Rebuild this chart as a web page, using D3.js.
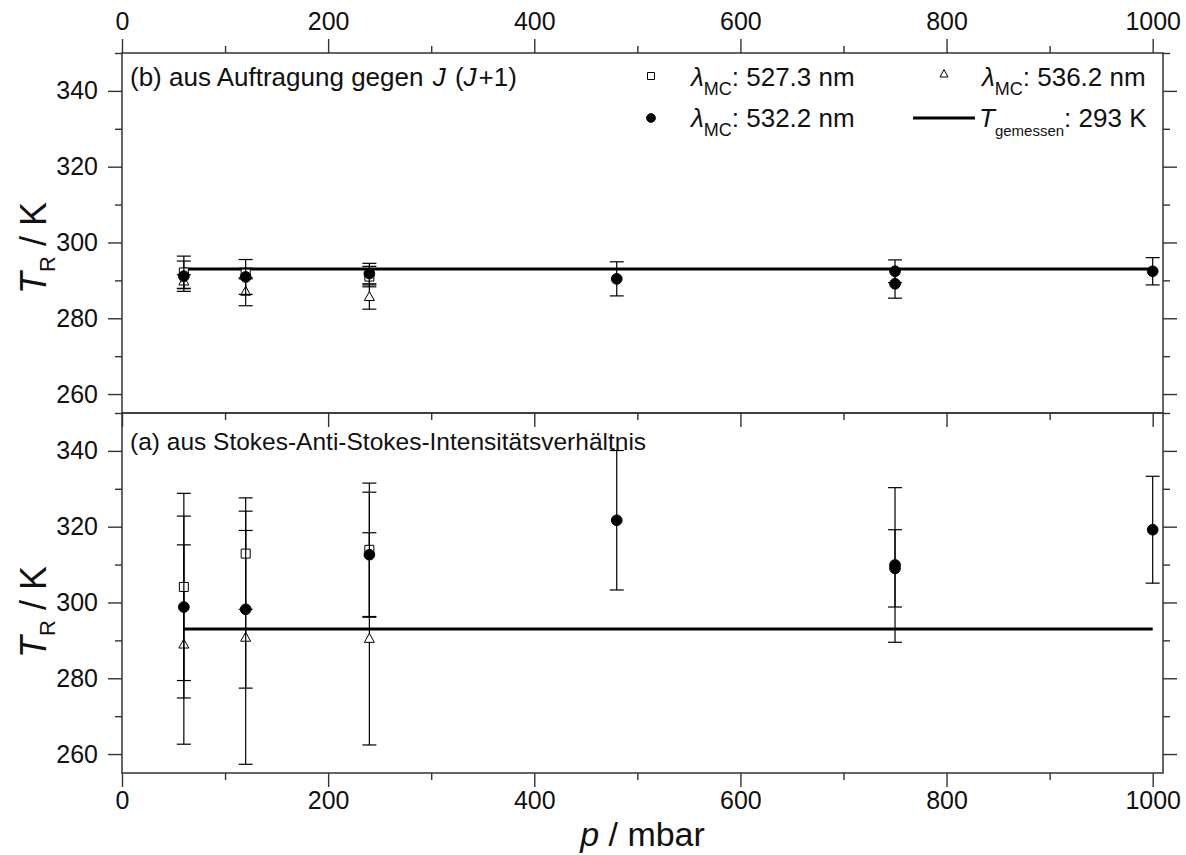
<!DOCTYPE html>
<html>
<head>
<meta charset="utf-8">
<script src="https://cdn.jsdelivr.net/npm/d3@7"></script>
<style>
  body { margin: 0; background: #fff; }
  svg text { font-family: "Liberation Sans", Arial, sans-serif; fill: #111; }
</style>
</head>
<body>
<div id="chart"></div>
<script>
// Daten: Druck in mbar, Rotationstemperatur in K, Fehler in K
const pShort = [60, 120, 240];
const pCircle = [60, 120, 240, 480, 750, 750, 1000];

// (b) aus Auftragung gegen J(J+1)
const tB527 = [292.1, 291.8, 291.0];
const eB527 = [4.3, 1.4, 2.7];
const tB532 = [291.1, 290.9, 291.8, 290.4, 292.4, 289.1, 292.4];
const eB532 = [4.0, 4.6, 2.7, 4.5, 3.0, 3.8, 3.6];
const tB536 = [289.7, 287.0, 285.6];
const eB536 = [1.8, 3.7, 3.2];

// (a) aus Stokes-Anti-Stokes-Intensitaetsverhaeltnis
const tA527 = [304.1, 312.9, 313.9];
const eA527 = [24.7, 14.7, 17.6];
const tA532 = [298.8, 298.2, 312.6, 321.7, 309.9, 309.0, 319.2];
const eA532 = [24.0, 20.8, 16.5, 18.4, 20.4, 10.2, 14.1];
const tA536 = [288.9, 290.7, 290.4];
const eA536 = [26.3, 33.4, 28.0];

const tMeasured = 293;
const pRange = [60, 1000];

const xTicks = [0, 200, 400, 600, 800, 1000];
const xMinor = [100, 300, 500, 700, 900];
const yTicks = [260, 280, 300, 320, 340];
const yMinor = [270, 290, 310, 330, 350];

// Layout
const marginLeft = 122, marginTop = 53;
const pw = 1041, ph = 360;

const svg = d3.select('#chart').append('svg')
    .attr('width', 1186)
    .attr('height', 855);

const x = d3.scaleLinear().domain([0, 1010]).range([0, pw]);
const y = d3.scaleLinear().domain([255, 350]).range([ph, 0]);

function styleAxis(g) {
    g.select('.domain').remove();
    g.selectAll('.tick line').attr('stroke', '#333').attr('stroke-width', 1.4);
    g.selectAll('.tick text').style('font-size', '25px').attr('fill', '#111');
}

function drawPanel(offY, label, series, showTop, showBottom) {
    const g = svg.append('g').attr('transform', `translate(${marginLeft},${offY})`);

    // linke Achse
    g.append('g').call(d3.axisLeft(y).tickValues(yTicks).tickSize(14).tickPadding(10).tickSizeOuter(0)).call(styleAxis);
    g.append('g').call(d3.axisLeft(y).tickValues(yMinor).tickSize(7).tickFormat('').tickSizeOuter(0)).call(styleAxis);
    // rechte Achse
    g.append('g').attr('transform', `translate(${pw},0)`)
        .call(d3.axisRight(y).tickValues(yTicks).tickSize(14).tickFormat('').tickSizeOuter(0)).call(styleAxis);
    g.append('g').attr('transform', `translate(${pw},0)`)
        .call(d3.axisRight(y).tickValues(yMinor).tickSize(7).tickFormat('').tickSizeOuter(0)).call(styleAxis);
    // untere Achse
    g.append('g').attr('transform', `translate(0,${ph})`)
        .call(d3.axisBottom(x).tickValues(xTicks).tickSize(14).tickPadding(4)
            .tickFormat(showBottom ? d3.format('d') : '').tickSizeOuter(0)).call(styleAxis);
    g.append('g').attr('transform', `translate(0,${ph})`)
        .call(d3.axisBottom(x).tickValues(xMinor).tickSize(7).tickFormat('').tickSizeOuter(0)).call(styleAxis);
    if (showTop) {
        g.append('g').call(d3.axisTop(x).tickValues(xTicks).tickSize(14).tickPadding(9)
            .tickFormat(d3.format('d')).tickSizeOuter(0)).call(styleAxis);
        g.append('g').call(d3.axisTop(x).tickValues(xMinor).tickSize(7).tickFormat('').tickSizeOuter(0)).call(styleAxis);
    }

    // Rahmen
    g.append('rect')
        .attr('width', pw).attr('height', ph)
        .attr('fill', 'none').attr('stroke', '#333').attr('stroke-width', 1.5);

    // gemessene Temperatur
    g.append('line')
        .attr('x1', x(pRange[0])).attr('x2', x(pRange[1]))
        .attr('y1', y(tMeasured)).attr('y2', y(tMeasured))
        .attr('stroke', '#000').attr('stroke-width', 2.8);

    // Messreihen: erst Fehlerbalken, dann Symbol
    series.forEach(s => {
        const pts = s.p.map((p, i) => ({p: p, t: s.t[i], e: s.e[i]}));
        const eb = g.append('g');
        pts.forEach(d => {
            eb.append('line')
                .attr('x1', x(d.p)).attr('x2', x(d.p))
                .attr('y1', y(d.t + d.e)).attr('y2', y(d.t - d.e))
                .attr('stroke', '#000').attr('stroke-width', 1.2);
            [d.t + d.e, d.t - d.e].forEach(v => {
                eb.append('line')
                    .attr('x1', x(d.p) - 7).attr('x2', x(d.p) + 7)
                    .attr('y1', y(v)).attr('y2', y(v))
                    .attr('stroke', '#000').attr('stroke-width', 1.2);
            });
        });
        g.append('g').selectAll('path')
            .data(pts)
            .enter()
            .append('path')
            .attr('transform', d => `translate(${x(d.p)},${y(d.t)})`)
            .attr('d', s.shape)
            .attr('fill', s.fill)
            .attr('stroke', '#000')
            .attr('stroke-width', 1);
    });

    // Beschriftung
    const lab = g.append('text')
        .attr('x', 8).attr('y', label.y)
        .style('font-size', label.size);
    label.parts.forEach(pt => {
        lab.append('tspan').attr('dx', pt.dx || 0).style('font-style', pt.it ? 'italic' : 'normal').text(pt.s);
    });
    return g;
}

const sq = 'M-4.5,-4.5H4.5V4.5H-4.5Z';
const tri = 'M0,-5.5L5,3.5H-5Z';
const circ = d3.symbol().type(d3.symbolCircle).size(90)();

drawPanel(marginTop, {y: 33, size: '26px', parts: [{s: '(b) aus Auftragung gegen '}, {s: 'J', it: true, dx: 2}, {s: ' (', dx: 2}, {s: 'J', it: true}, {s: '+1)', dx: 2}]}, [
    {p: pShort, t: tB536, e: eB536, shape: tri, fill: '#fff'},
    {p: pShort, t: tB527, e: eB527, shape: sq, fill: '#fff'},
    {p: pCircle, t: tB532, e: eB532, shape: circ, fill: '#000'}
], true, false);

drawPanel(marginTop + ph, {y: 37, size: '24.5px', parts: [{s: '(a) aus Stokes-Anti-Stokes-Intensitätsverhältnis'}]}, [
    {p: pShort, t: tA536, e: eA536, shape: tri, fill: '#fff'},
    {p: pShort, t: tA527, e: eA527, shape: sq, fill: '#fff'},
    {p: pCircle, t: tA532, e: eA532, shape: circ, fill: '#000'}
], false, true);

// Legende
const legend = svg.append('g');
const legItems = [
    {cx: 651, cy: 76, shape: 'M-3.5,-3.5H3.5V3.5H-3.5Z', fill: '#fff', tx: 691, by: 86, main: 'λ', sub: 'MC', rest: ': 527.3 nm'},
    {cx: 944, cy: 74, shape: 'M0,-4.5L4,3H-4Z', fill: '#fff', tx: 982, by: 86, main: 'λ', sub: 'MC', rest: ': 536.2 nm'},
    {cx: 651, cy: 118, shape: d3.symbol().type(d3.symbolCircle).size(60)(), fill: '#000', tx: 691, by: 127, main: 'λ', sub: 'MC', rest: ': 532.2 nm'},
    {line: true, cx: 913, cy: 118, tx: 979, by: 127, main: 'T', sub: 'gemessen', rest: ': 293 K'}
];
legItems.forEach(it => {
    if (it.line) {
        legend.append('line')
            .attr('x1', it.cx).attr('x2', it.cx + 62)
            .attr('y1', it.cy).attr('y2', it.cy)
            .attr('stroke', '#000').attr('stroke-width', 2.8);
    } else {
        legend.append('path')
            .attr('transform', `translate(${it.cx},${it.cy})`)
            .attr('d', it.shape).attr('fill', it.fill)
            .attr('stroke', '#000').attr('stroke-width', 1);
    }
    const t = legend.append('text')
        .attr('x', it.tx).attr('y', it.by)
        .style('font-size', '26px');
    t.append('tspan').style('font-style', 'italic').text(it.main);
    t.append('tspan').attr('dy', 9).style('font-size', it.sub === 'MC' ? '18px' : '15px').text(it.sub);
    t.append('tspan').attr('dy', -9).text(it.rest);
});

// Achsentitel
[marginTop + ph / 2 + 15, marginTop + ph * 1.5 + 19].forEach(cy => {
    const t = svg.append('text')
        .attr('transform', `translate(46,${cy}) rotate(-90)`)
        .attr('text-anchor', 'middle')
        .style('font-size', '36px');
    t.append('tspan').style('font-style', 'italic').text('T');
    t.append('tspan').attr('dy', 9).style('font-size', '22px').text('R');
    t.append('tspan').attr('dy', -9).text(' / K');
});

const xt = svg.append('text')
    .attr('x', marginLeft + x(505)).attr('y', 846)
    .attr('text-anchor', 'middle')
    .style('font-size', '34px');
xt.append('tspan').style('font-style', 'italic').text('p');
xt.append('tspan').text(' / mbar');
</script>
</body>
</html>
